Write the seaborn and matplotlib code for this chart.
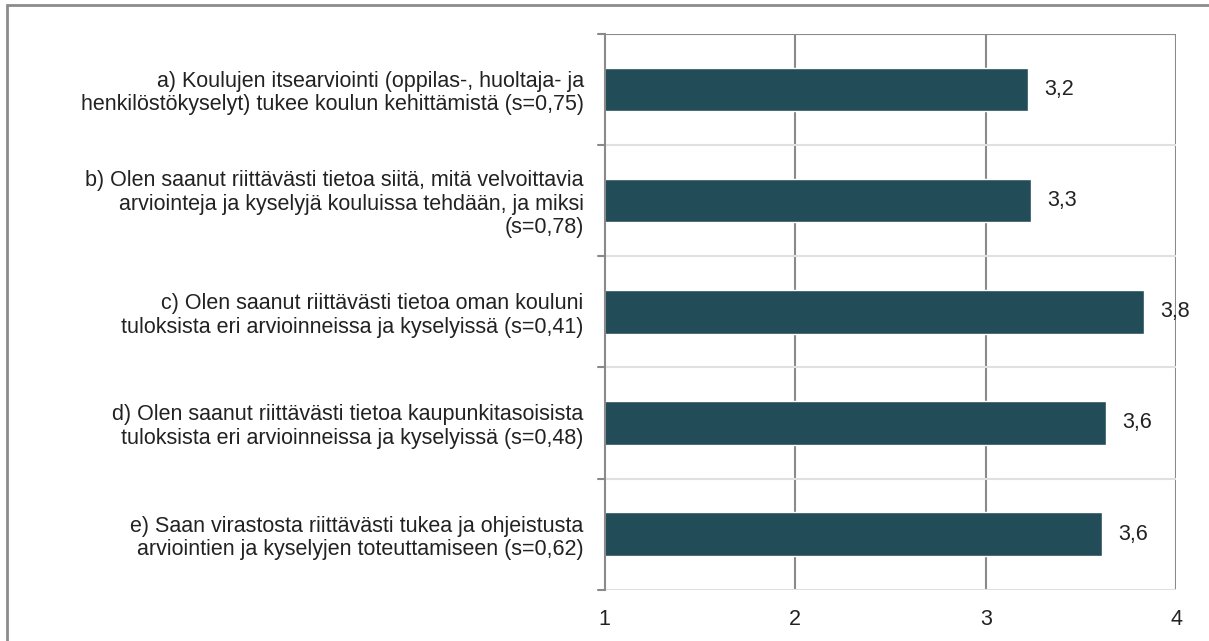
import numpy as np
import pandas as pd
import matplotlib
matplotlib.use("Agg")
import matplotlib.pyplot as plt
import seaborn as sns
from matplotlib.patches import Rectangle

# Data
labels = [
    "a) Koulujen itsearviointi (oppilas-, huoltaja- ja\nhenkilöstökyselyt) tukee koulun kehittämistä (s=0,75)",
    "b) Olen saanut riittävästi tietoa siitä, mitä velvoittavia\narviointeja ja kyselyjä kouluissa tehdään, ja miksi\n(s=0,78)",
    "c) Olen saanut riittävästi tietoa oman kouluni\ntuloksista eri arvioinneissa ja kyselyissä (s=0,41)",
    "d) Olen saanut riittävästi tietoa kaupunkitasoisista\ntuloksista eri arvioinneissa ja kyselyissä (s=0,48)",
    "e) Saan virastosta riittävästi tukea ja ohjeistusta\narviointien ja kyselyjen toteuttamiseen (s=0,62)",
]
values = [3.22, 3.24, 3.83, 3.63, 3.61]
value_labels = ["3,2", "3,3", "3,8", "3,6", "3,6"]
x_ticks = [1, 2, 3, 4]

df = pd.DataFrame({"label": labels, "value": values})

sns.set_theme(style="white")
plt.rcParams["font.family"] = ["Liberation Sans", "DejaVu Sans"]

fig = plt.figure(figsize=(12.09, 6.41), dpi=100)
ax = fig.add_axes([0.500, 0.080, 0.473, 0.867])

bar_color = "#234C59"
sns.barplot(data=df, y="label", x="value", color=bar_color, width=0.39,
            orient="h", ax=ax, saturation=1)

FS = 15.5
ax.set_xlim(1, 4)
ax.set_ylim(len(labels) - 0.5, -0.5)
ax.set_xticks(x_ticks)
ax.set_xticklabels([str(t) for t in x_ticks], fontsize=FS, color="#222222")
ax.set_xlabel("")
ax.set_ylabel("")
ax.set_yticklabels(labels, fontsize=FS, color="#222222", linespacing=1.15)
ax.tick_params(axis="y", length=0, pad=15)
ax.tick_params(axis="x", length=0, pad=14)

# vertical gridlines
for t in x_ticks[1:]:
    ax.axvline(t, color="#8a8a8a", lw=1.5, zorder=0)

# category boundary lines
for b in np.arange(-0.5, len(labels), 1.0):
    col = "#8a8a8a" if b == -0.5 else "#e0e0e0"
    ax.axhline(b, color=col, lw=1.5, zorder=0)
    ax.plot([-0.012, 0], [b, b], transform=ax.get_yaxis_transform(),
            color="#8a8a8a", lw=1.5, clip_on=False)

for side in ["top", "right", "bottom"]:
    ax.spines[side].set_visible(False)
ax.spines["left"].set_color("#8a8a8a")
ax.spines["left"].set_linewidth(1.5)

# value labels
for i, (v, txt) in enumerate(zip(values, value_labels)):
    ax.text(v + 0.085, i, txt, va="center", ha="left", fontsize=FS,
            color="#222222", clip_on=False)

# outer frame (cut off at right and bottom like the reference)
fig.patches.append(Rectangle((0.006, -0.05), 1.1, 1.042, transform=fig.transFigure,
                             fill=False, edgecolor="#8c8c8c", lw=2))

fig.savefig("out.png", dpi=100)
